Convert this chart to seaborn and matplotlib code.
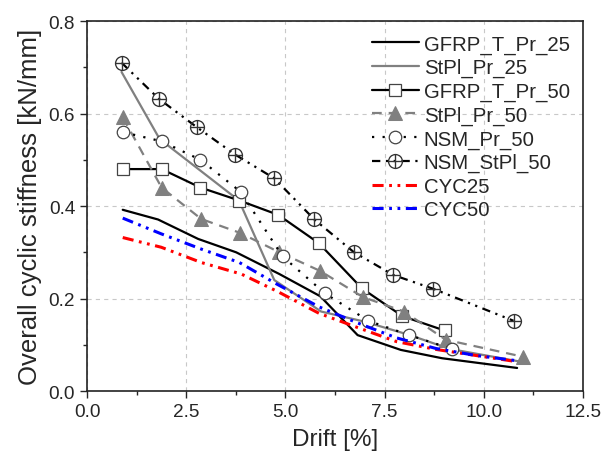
import numpy as np
import matplotlib
matplotlib.use("Agg")
import matplotlib.pyplot as plt
import seaborn as sns

# ---------- data ----------
gfrp25_x = [0.90, 1.79, 2.80, 3.76, 4.85, 5.88, 6.82, 7.91, 8.95, 10.84]
gfrp25_y = [0.392, 0.371, 0.329, 0.300, 0.253, 0.205, 0.121, 0.089, 0.071, 0.050]

stpl25_x = [0.87, 1.83, 3.83, 4.72, 5.90, 7.00, 8.10, 9.15, 10.90]
stpl25_y = [0.690, 0.545, 0.412, 0.240, 0.172, 0.150, 0.122, 0.091, 0.064]

gfrp50_x = [0.90, 1.88, 2.86, 3.84, 4.82, 5.84, 6.93, 7.95, 9.01]
gfrp50_y = [0.480, 0.480, 0.440, 0.412, 0.381, 0.320, 0.222, 0.162, 0.131]

stpl50_x = [0.90, 1.88, 2.88, 3.86, 4.85, 5.87, 6.96, 7.99, 9.04, 11.00]
stpl50_y = [0.592, 0.440, 0.372, 0.342, 0.300, 0.260, 0.203, 0.172, 0.111, 0.074]

nsm50_x = [0.90, 1.88, 2.86, 3.87, 4.93, 6.00, 7.09, 8.12, 9.20]
nsm50_y = [0.560, 0.540, 0.500, 0.431, 0.291, 0.211, 0.152, 0.121, 0.091]

nsmst50_x = [0.87, 1.81, 2.76, 3.74, 4.72, 5.73, 6.73, 7.72, 8.73, 10.75]
nsmst50_y = [0.710, 0.632, 0.571, 0.511, 0.460, 0.371, 0.300, 0.251, 0.221, 0.152]

cyc25_x = [0.90, 1.87, 2.88, 3.89, 4.81, 5.85, 6.80, 7.80, 8.80, 9.80, 10.80]
cyc25_y = [0.332, 0.311, 0.278, 0.253, 0.215, 0.168, 0.138, 0.107, 0.090, 0.077, 0.064]

cyc50_x = [0.90, 1.87, 2.88, 3.84, 4.77, 5.85, 6.80, 7.80, 8.80, 9.80, 10.80]
cyc50_y = [0.374, 0.340, 0.307, 0.278, 0.232, 0.182, 0.148, 0.115, 0.092, 0.077, 0.066]

# ---------- style ----------
sns.set_style("ticks")
plt.rcParams["font.family"] = ["Liberation Sans", "DejaVu Sans"]
plt.rcParams["mathtext.fontset"] = "stix"
plt.rcParams["lines.scale_dashes"] = False

fig = plt.figure(figsize=(6.06, 4.64), dpi=100)
ax = fig.add_axes([0.1436, 0.155, 0.8184, 0.7974])

grey = "#808080"
common = dict(ax=ax, estimator=None, sort=False)

sns.lineplot(x=gfrp25_x, y=gfrp25_y, color="black", linewidth=1.6,
             label="GFRP_T_Pr_25", **common)
sns.lineplot(x=stpl25_x, y=stpl25_y, color=grey, linewidth=1.6,
             label="StPl_Pr_25", **common)
sns.lineplot(x=gfrp50_x, y=gfrp50_y, color="black", linewidth=1.6,
             marker="s", markersize=8, markerfacecolor="white",
             markeredgecolor="#444444", markeredgewidth=0.9,
             label="GFRP_T_Pr_50", **common)
sns.lineplot(x=stpl50_x, y=stpl50_y, color=grey, linewidth=1.6,
             linestyle=(0, (7, 5)), marker="^", markersize=10,
             markerfacecolor=grey, markeredgecolor=grey,
             label="StPl_Pr_50", **common)
sns.lineplot(x=nsm50_x, y=nsm50_y, color="black", linewidth=1.6,
             linestyle=(0, (1.6, 6)), marker="o", markersize=9,
             markerfacecolor="white", markeredgecolor="#444444",
             markeredgewidth=0.9, label="NSM_Pr_50", **common)
sns.lineplot(x=nsmst50_x, y=nsmst50_y, color="black", linewidth=1.6,
             linestyle=(0, (6, 4, 1.6, 4, 1.6, 4)), marker=r"$\oplus$",
             markersize=11, markeredgewidth=0, markerfacecolor="#333333",
             label="NSM_StPl_50", **common)
sns.lineplot(x=cyc25_x, y=cyc25_y, color="red", linewidth=2.2,
             linestyle=(0, (8, 4, 2, 4, 2, 4)), label="CYC25", **common)
sns.lineplot(x=cyc50_x, y=cyc50_y, color="blue", linewidth=2.2,
             linestyle=(0, (8, 4, 2, 4, 2, 4)), label="CYC50", **common)

ax.set_xlim(0, 12.5)
ax.set_ylim(0, 0.8)
ax.set_xticks(np.arange(0, 12.6, 2.5))
ax.set_yticks(np.arange(0, 0.81, 0.2))
ax.set_xticks(np.arange(1.25, 12.5, 2.5), minor=True)
ax.set_yticks(np.arange(0.1, 0.8, 0.2), minor=True)
ax.xaxis.set_major_formatter(plt.FormatStrFormatter("%.1f"))
ax.yaxis.set_major_formatter(plt.FormatStrFormatter("%.1f"))
ax.tick_params(which="major", direction="out", length=5, width=1, labelsize=13.7)
ax.tick_params(which="minor", direction="out", length=3, width=1)
ax.grid(True, which="major", color="#c8c8c8", linestyle=(0, (3, 3)), linewidth=0.8)
ax.set_axisbelow(True)
for sp in ax.spines.values():
    sp.set_visible(True)
    sp.set_linewidth(1.2)
    sp.set_color("#222222")

ax.set_xlabel("Drift [%]", fontsize=17.5, labelpad=6)
ax.set_ylabel("Overall cyclic stiffness [kN/mm]", fontsize=18.5, labelpad=5)

ax.legend(loc="upper right", frameon=False, fontsize=14.7, handlelength=2.3,
          handletextpad=0.25, labelspacing=0.22, borderaxespad=0.3,
          borderpad=0.35)

fig.savefig("out.png", dpi=100)
